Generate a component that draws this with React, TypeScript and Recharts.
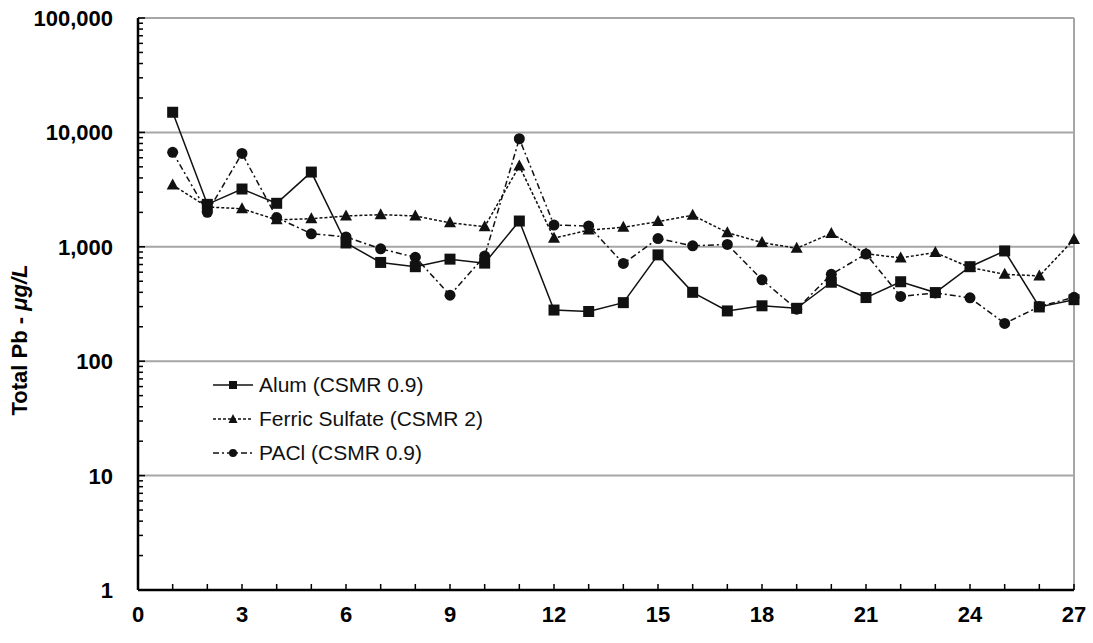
import { LineChart, Line, XAxis, YAxis, ReferenceLine, Legend } from "recharts";

const runs = [1, 2, 3, 4, 5, 6, 7, 8, 9, 10, 11, 12, 13, 14, 15, 16, 17, 18, 19, 20, 21, 22, 23, 24, 25, 26, 27];
const alum = [15000, 2350, 3200, 2400, 4500, 1080, 730, 670, 780, 720, 1680, 280, 272, 325, 850, 400, 275, 305, 290, 490, 360, 495, 398, 670, 920, 298, 345];
const ferricSulfate = [3470, 2230, 2150, 1720, 1760, 1860, 1910, 1860, 1620, 1500, 5080, 1190, 1400, 1480, 1660, 1890, 1330, 1090, 970, 1310, 870, 800, 890, 660, 575, 556, 1160];
const pacl = [6700, 2000, 6550, 1800, 1300, 1220, 960, 810, 378, 830, 8800, 1550, 1520, 715, 1180, 1020, 1050, 515, 285, 575, 865, 368, 395, 358, 214, 300, 362];

const decades = [1, 10, 100, 1000, 10000, 100000];
const xTicks = [0, ...runs];

const yTicks: number[] = [];
decades.forEach((d) => {
  yTicks.push(d);
  if (d < 100000) for (let k = 2; k <= 9; k++) yTicks.push(d * k);
});

const data = runs.map((r, i) => ({
  run: r,
  alum: alum[i],
  ferric: ferricSulfate[i],
  pacl: pacl[i],
}));

const font = "Arial, 'Liberation Sans', Helvetica, sans-serif";
const ink = "#111";

const Square = (p: any) => (
  <rect key={p.key} x={p.cx - 5.5} y={p.cy - 5.5} width={11} height={11} fill={ink} />
);
const Triangle = (p: any) => (
  <polygon
    key={p.key}
    points={`${p.cx},${p.cy - 6.5} ${p.cx - 6},${p.cy + 4.5} ${p.cx + 6},${p.cy + 4.5}`}
    fill={ink}
  />
);
const Circle = (p: any) => <circle key={p.key} cx={p.cx} cy={p.cy} r={5.5} fill={ink} />;

const YTick = ({ x, y, payload }: any) => {
  const v = payload.value;
  const major = decades.includes(v);
  return (
    <g>
      <line x1={x} x2={x + (major ? 7 : 5)} y1={y} y2={y} stroke="#000" strokeWidth={1.5} />
      {major && (
        <text x={x - 25} y={y} dy={8} textAnchor="end" fontFamily={font} fontWeight="bold" fontSize={22} fill="#000">
          {v.toLocaleString("en-US")}
        </text>
      )}
    </g>
  );
};

const XTick = ({ x, y, payload }: any) => {
  const v = payload.value;
  return (
    <g>
      <line x1={x} x2={x} y1={y} y2={y - 6} stroke="#000" strokeWidth={1.5} />
      {v % 3 === 0 && (
        <text x={x} y={y + 32} textAnchor="middle" fontFamily={font} fontWeight="bold" fontSize={22} fill="#000">
          {v}
        </text>
      )}
    </g>
  );
};

const YLabel = () => (
  <text
    x={27}
    y={340}
    transform="rotate(-90 27 340)"
    textAnchor="middle"
    fontFamily={font}
    fontWeight="bold"
    fontSize={22}
    fill="#000"
  >
    Total Pb - <tspan fontStyle="italic">μg/L</tspan>
  </text>
);

const legendItems = [
  { label: "Alum (CSMR 0.9)", dash: undefined, mark: "square" },
  { label: "Ferric Sulfate (CSMR 2)", dash: "3 2", mark: "triangle" },
  { label: "PACl (CSMR 0.9)", dash: "6 3 2 3", mark: "circle" },
];

const LegendBox = () => (
  <div style={{ fontFamily: font, fontSize: 21, color: "#111", textAlign: "left" }}>
    {legendItems.map((it) => (
      <div key={it.label} style={{ display: "flex", alignItems: "center", height: 34 }}>
        <svg width={44} height={14} style={{ marginRight: 4 }}>
          <line x1={2} x2={42} y1={7} y2={7} stroke={ink} strokeWidth={1.5} strokeDasharray={it.dash} />
          {it.mark === "square" && <rect x={18} y={3} width={8} height={8} fill={ink} />}
          {it.mark === "triangle" && <polygon points="22,2 17.5,11 26.5,11" fill={ink} />}
          {it.mark === "circle" && <circle cx={22} cy={7} r={4} fill={ink} />}
        </svg>
        <span>{it.label}</span>
      </div>
    ))}
  </div>
);

export default function App() {
  return (
    <div style={{ position: "absolute", left: 0, top: 0, width: 1093, height: 643, background: "#fff" }}>
      <LineChart width={1093} height={643} data={data} margin={{ top: 18, right: 19, bottom: 0, left: 0 }}>
        {decades.slice(1).map((d) => (
          <ReferenceLine key={d} y={d} stroke="#a6a6a6" strokeWidth={2} />
        ))}
        <ReferenceLine x={27} stroke="#a6a6a6" strokeWidth={2} />
        <XAxis
          dataKey="run"
          type="number"
          domain={[0, 27]}
          ticks={xTicks}
          interval={0}
          height={53}
          tickSize={0}
          tickMargin={0}
          tickLine={false}
          tick={<XTick />}
          axisLine={{ stroke: "#000", strokeWidth: 2.5 }}
        />
        <YAxis
          scale="log"
          domain={[1, 100000]}
          allowDataOverflow
          ticks={yTicks}
          interval={0}
          width={138}
          tickSize={0}
          tickMargin={0}
          tickLine={false}
          tick={<YTick />}
          axisLine={{ stroke: "#000", strokeWidth: 2.5 }}
          label={{ content: YLabel }}
        />
        <Legend
          layout="vertical"
          verticalAlign="middle"
          align="center"
          wrapperStyle={{ left: 211, top: 368, width: 320 }}
          content={<LegendBox />}
        />
        <Line
          dataKey="ferric"
          stroke={ink}
          strokeWidth={1.5}
          strokeDasharray="3 2"
          dot={Triangle}
          isAnimationActive={false}
        />
        <Line
          dataKey="pacl"
          stroke={ink}
          strokeWidth={1.5}
          strokeDasharray="6 3 2 3"
          dot={Circle}
          isAnimationActive={false}
        />
        <Line dataKey="alum" stroke={ink} strokeWidth={1.5} dot={Square} isAnimationActive={false} />
      </LineChart>
    </div>
  );
}
